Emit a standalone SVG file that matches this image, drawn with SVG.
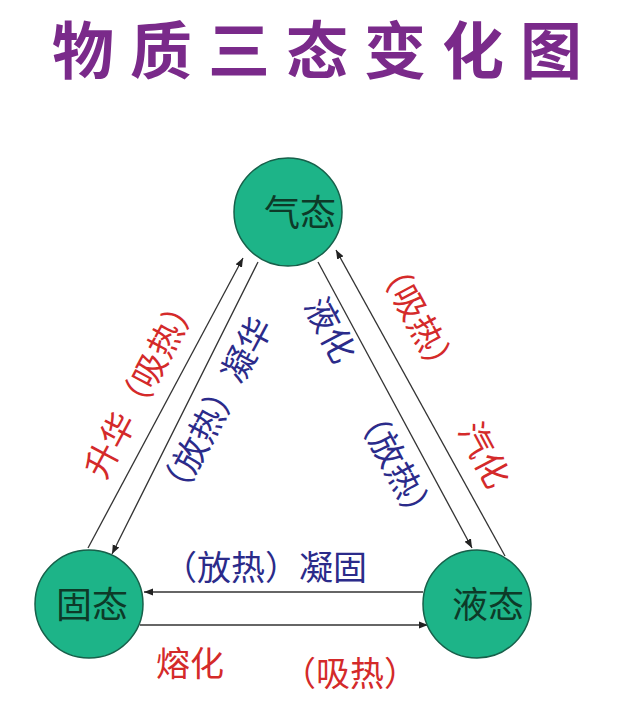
<svg xmlns="http://www.w3.org/2000/svg" width="640" height="710" viewBox="0 0 640 710">
<style>
text{font-family:"Noto Sans CJK SC",sans-serif}
.node circle{fill:#1db488;stroke:#17604a;stroke-width:1.5}
.node text{font-size:36px;fill:#0d3a28;text-anchor:middle}
.ln{stroke:#333;stroke-width:1.3;fill:none;marker-end:url(#ah)}
.r{fill:#d42a2a;font-size:34px;text-anchor:middle}
.b{fill:#2b2b8a;font-size:34px;text-anchor:middle}
</style>
<defs><marker id="ah" viewBox="0 0 10 10" refX="10" refY="5" markerWidth="9" markerHeight="9" orient="auto" markerUnits="userSpaceOnUse"><path d="M0,1 L10,5 L0,9 Z" fill="#222"/></marker></defs>
<rect width="640" height="710" fill="#fff"/>
<text x="325" y="74" font-size="62" font-weight="bold" fill="#7a2a8a" text-anchor="middle" letter-spacing="16">物质三态变化图</text>
<g id="connectors">
<line class="ln" x1="88" y1="548" x2="243" y2="258"/>
<line class="ln" x1="258" y1="262" x2="112" y2="554"/>
<line class="ln" x1="318" y1="262" x2="472" y2="548"/>
<line class="ln" x1="505" y1="556" x2="336" y2="250"/>
<line class="ln" x1="423" y1="592" x2="144" y2="592"/>
<line class="ln" x1="140" y1="625" x2="428" y2="625"/>
</g>
<g id="labels">
<text class="r" transform="translate(142,385) rotate(-62)" dy="12">升华（吸热）</text>
<text class="b" transform="translate(215,410) rotate(-62)" dy="12">（放热）凝华</text>
<text class="b" transform="translate(330,330) rotate(62)" dy="12">液化</text>
<text class="b" transform="translate(395,465) rotate(62)" dy="12">（放热）</text>
<text class="r" transform="translate(417,318) rotate(62)" dy="12">（吸热）</text>
<text class="r" transform="translate(484,455) rotate(62)" dy="12">汽化</text>
<text class="b" x="265" y="580">（放热）凝固</text>
<text class="r" x="190" y="676">熔化</text>
<text class="r" x="350" y="686">（吸热）</text>
</g>
<g id="gas" class="node"><circle cx="288" cy="212" r="54"/><text x="300" y="226">气态</text></g>
<g id="solid" class="node"><circle cx="89" cy="604" r="54"/><text x="92" y="618">固态</text></g>
<g id="liquid" class="node"><circle cx="477" cy="604" r="54"/><text x="488" y="618">液态</text></g>
</svg>
